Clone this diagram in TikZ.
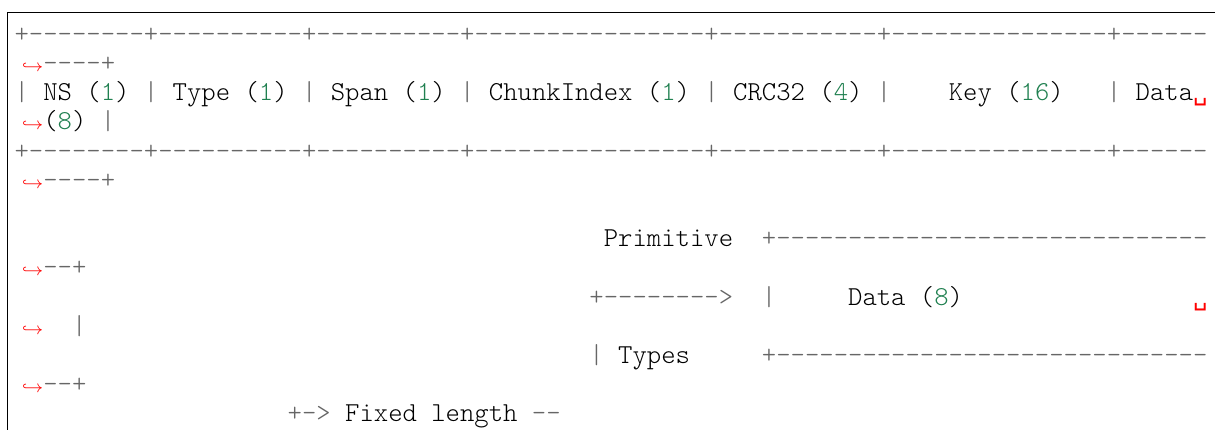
\documentclass[tikz,border=0pt]{standalone}
\usepackage{fontspec}
\setmonofont{Latin Modern Mono Light}
\newfontfamily\markfont{DejaVu Sans Mono}
\usepackage{xcolor}
\usetikzlibrary{positioning}

\definecolor{opgray}{HTML}{666666}
\definecolor{numgreen}{HTML}{208050}
\definecolor{markred}{HTML}{FF0000}

\newcommand{\op}[1]{\textcolor{opgray}{#1}}
\newcommand{\nm}[1]{\textcolor{numgreen}{#1}}
\newcommand{\vsp}{\textcolor{markred}{\markfont\fontsize{10}{12}\selectfont ␣}}

\tikzset{
  codeline/.style={anchor=base west, inner sep=0pt, outer sep=0pt, font=\ttfamily\fontsize{11.43}{13}\selectfont},
  wrapmark/.style={anchor=base east, inner sep=0pt, outer sep=0pt, text=markred, font=\fontsize{7.5}{9}\selectfont},
}

\begin{document}
\begin{tikzpicture}
  \useasboundingbox (0,0) rectangle (507.3pt,-179.5pt);
  % frame of the code block
  \draw[line width=0.5pt] (3.05pt,-180pt) -- (3.05pt,-5.14pt) -- (508pt,-5.14pt);
  \begin{scope}[shift={(6.1pt,-5.47pt)}, x=6pt, y=-12.19pt]
    % record header
    \node[codeline] (row1) at (0,1) {\op{+--------+----------+----------+----------------+-----------+---------------+------}};
    \node[wrapmark] (wrap2) at (2,2) {$\hookrightarrow$};
    \node[codeline] (row2) at (2,2) {\op{----+}};
    \node[codeline] (row3) at (0,3) {\op{|}~NS~(\nm{1})~\op{|}~Type~(\nm{1})~\op{|}~Span~(\nm{1})~\op{|}~ChunkIndex~(\nm{1})~\op{|}~CRC32~(\nm{4})~\op{|}~~~~Key~(\nm{16})~~~\op{|}~Data\vsp};
    \node[wrapmark] (wrap4) at (2,4) {$\hookrightarrow$};
    \node[codeline] (row4) at (2,4) {(\nm{8})~\op{|}};
    \node[codeline] (row5) at (0,5) {\op{+--------+----------+----------+----------------+-----------+---------------+------}};
    \node[wrapmark] (wrap6) at (2,6) {$\hookrightarrow$};
    \node[codeline] (row6) at (2,6) {\op{----+}};
    % data part
    \node[codeline] (row8) at (41,8) {Primitive~~\op{+------------------------------}};
    \node[wrapmark] (wrap9) at (2,9) {$\hookrightarrow$};
    \node[codeline] (row9) at (2,9) {\op{--+}};
    \node[codeline] (row10) at (40,10) {\op{+-------->}~~\op{|}~~~~~Data~(\nm{8})~~~~~~~~~~~~~~~~\vsp};
    \node[wrapmark] (wrap11) at (2,11) {$\hookrightarrow$};
    \node[codeline] (row11) at (2,11) {~~\op{|}};
    \node[codeline] (row12) at (40,12) {\op{|}~Types~~~~~\op{+------------------------------}};
    \node[wrapmark] (wrap13) at (2,13) {$\hookrightarrow$};
    \node[codeline] (row13) at (2,13) {\op{--+}};
    \node[codeline] (row14) at (19,14) {\op{+->}~Fixed~length~\op{--}};
  \end{scope}
\end{tikzpicture}
\end{document}
